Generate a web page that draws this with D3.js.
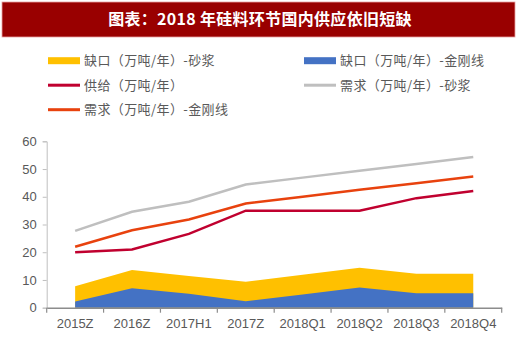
<!DOCTYPE html>
<html lang="zh">
<head>
  <meta charset="UTF-8">
  <title>硅料环节国内供应</title>
  <script src="https://d3js.org/d3.v7.min.js"></script>
  <style>
    body { margin: 0; background: #fff; }
    svg { display: block; }
  </style>
</head>
<body>
</body>
<script>
  // Data
  const categories = ["2015Z", "2016Z", "2017H1", "2017Z", "2018Q1", "2018Q2", "2018Q3", "2018Q4"];
  const gapSlurry = [7.7, 13.6, 11.4, 9.4, 11.9, 14.4, 12.2, 12.2];   // 缺口-砂浆
  const gapDiamond = [2.2, 7.0, 5.0, 2.3, 4.8, 7.3, 5.2, 5.2];        // 缺口-金刚线
  const supply = [20, 21, 26.6, 35, 35, 35, 39.5, 42.1];              // 供给
  const demandSlurry = [27.7, 34.6, 38.2, 44.4, 46.9, 49.4, 51.8, 54.3]; // 需求-砂浆
  const demandDiamond = [22, 27.9, 31.8, 37.6, 40.0, 42.5, 44.9, 47.3];  // 需求-金刚线
  const yTicks = [0, 10, 20, 30, 40, 50, 60];

  const W = 520, H = 352;
  const svg = d3.select("body").append("svg")
    .attr("width", W)
    .attr("height", H);

  // Title bar
  svg.append("rect")
    .attr("x", 2).attr("y", 2)
    .attr("width", 513).attr("height", 35)
    .attr("fill", "#990000")
    .attr("stroke", "#e8a0a0")
    .attr("stroke-width", 0.8);
  svg.append("text")
    .attr("x", 260).attr("y", 25)
    .attr("text-anchor", "middle")
    .attr("fill", "#fff")
    .attr("font-family", "'Noto Sans CJK SC', sans-serif")
    .attr("font-weight", "bold")
    .attr("font-size", 16)
    .attr("letter-spacing", 0.3)
    .text("图表：2018 年硅料环节国内供应依旧短缺");

  // Scales
  const x = d3.scaleBand()
    .domain(categories)
    .range([46.7, 501.7]);
  const y = d3.scaleLinear()
    .domain([0, 60])
    .range([307.7, 141.3]);
  const cx = d => x(d) + x.bandwidth() / 2;

  // Areas (overlapping, not stacked)
  const area = d3.area()
    .x((d, i) => cx(categories[i]))
    .y0(y(0))
    .y1(d => y(d));
  svg.append("path")
    .datum(gapSlurry)
    .attr("fill", "#FFC000")
    .attr("d", area);
  svg.append("path")
    .datum(gapDiamond)
    .attr("fill", "#4472C4")
    .attr("d", area);

  // Lines
  const line = d3.line()
    .x((d, i) => cx(categories[i]))
    .y(d => y(d));
  const lines = [
    {data: demandSlurry, color: "#BFBFBF"},
    {data: demandDiamond, color: "#E8420E"},
    {data: supply, color: "#C0002F"}
  ];
  lines.forEach(l => {
    svg.append("path")
      .datum(l.data)
      .attr("fill", "none")
      .attr("stroke", l.color)
      .attr("stroke-width", 2.5)
      .attr("d", line);
  });

  // Y axis
  const yAxis = svg.append("g")
    .attr("transform", "translate(46.7,0)")
    .call(d3.axisLeft(y).tickValues(yTicks).tickSize(4).tickPadding(6));
  yAxis.select(".domain").attr("stroke", "#bfbfbf");
  yAxis.selectAll(".tick line").attr("stroke", "#bfbfbf");
  yAxis.selectAll("text")
    .attr("fill", "#595959")
    .attr("font-family", "Arial, 'Liberation Sans', sans-serif")
    .attr("font-size", 13);

  // X axis
  const xAxis = svg.append("g")
    .attr("transform", "translate(0," + y(0) + ")")
    .call(d3.axisBottom(x).tickSize(0).tickPadding(11));
  xAxis.select(".domain").attr("stroke", "#8c8c8c").attr("stroke-width", 1.5);
  xAxis.selectAll("text")
    .attr("fill", "#595959")
    .attr("font-family", "Arial, 'Liberation Sans', sans-serif")
    .attr("font-size", 13);
  // tick marks at the band boundaries
  xAxis.selectAll(".bound")
    .data(categories.concat(["end"]))
    .enter()
    .append("line")
    .attr("class", "bound")
    .attr("x1", (d, i) => 46.7 + i * x.bandwidth())
    .attr("x2", (d, i) => 46.7 + i * x.bandwidth())
    .attr("y1", 0)
    .attr("y2", 5)
    .attr("stroke", "#8c8c8c")
    .attr("stroke-width", 1.2);

  // Legend
  const legend = [
    {label: "缺口（万吨/年）-砂浆", color: "#FFC000", type: "rect", col: 0, row: 0},
    {label: "缺口（万吨/年）-金刚线", color: "#4472C4", type: "rect", col: 1, row: 0},
    {label: "供给（万吨/年）", color: "#C0002F", type: "line", col: 0, row: 1},
    {label: "需求（万吨/年）-砂浆", color: "#BFBFBF", type: "line", col: 1, row: 1},
    {label: "需求（万吨/年）-金刚线", color: "#E8420E", type: "line", col: 0, row: 2}
  ];
  const lg = svg.selectAll(".legend")
    .data(legend)
    .enter()
    .append("g")
    .attr("class", "legend")
    .attr("transform", d => `translate(${d.col ? 304 : 48},${60.7 + d.row * 24.5})`);
  lg.append("rect")
    .attr("x", 0)
    .attr("y", d => d.type === "rect" ? -3.5 : -1.5)
    .attr("width", 32)
    .attr("height", d => d.type === "rect" ? 7 : 3)
    .attr("fill", d => d.color);
  lg.append("text")
    .attr("x", 36)
    .attr("y", 4.5)
    .attr("fill", "#595959")
    .attr("font-family", "'Noto Sans CJK SC', sans-serif")
    .attr("font-size", 13)
    .attr("letter-spacing", 0.4)
    .text(d => d.label);
</script>
</html>
